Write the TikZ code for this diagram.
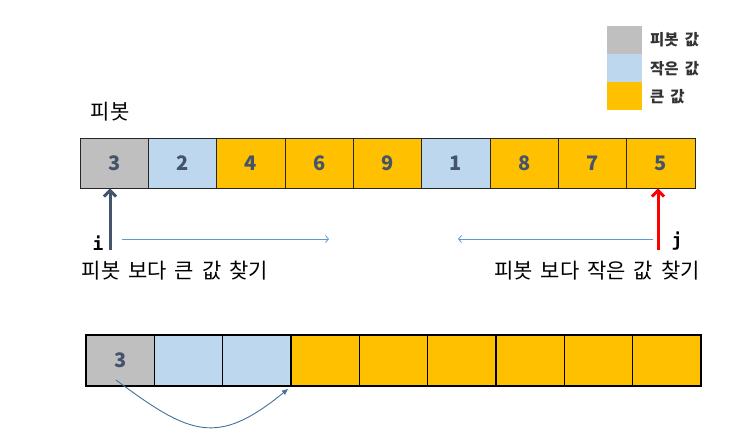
\documentclass[tikz,border=0pt]{standalone}
\usepackage{fontspec}
\setmainfont{Noto Sans CJK KR}[WordSpace=1.7]
\newfontfamily\monofont{DejaVu Sans Mono}
\usetikzlibrary{arrows.meta}

\definecolor{pivotgray}{HTML}{BFBFBF}
\definecolor{smallblue}{HTML}{BDD7EE}
\definecolor{biggold}{HTML}{FFC000}
\definecolor{numcol}{HTML}{44546A}
\definecolor{scanblue}{HTML}{5B9BD5}
\definecolor{moveblue}{HTML}{41719C}

\tikzset{
  cell/.style={draw=black!85, line width=0.8pt, minimum width=68.33pt,
    minimum height=50pt, inner sep=0pt, text=numcol,
    font=\fontsize{20}{24}\selectfont\bfseries},
  lowcell/.style={cell, draw=black, line width=1.2pt, minimum height=51pt},
  legbox/.style={minimum width=35pt, minimum height=28pt, inner sep=0pt},
  legtext/.style={anchor=west, inner sep=0pt, font=\fontsize{15.5}{18}\selectfont\bfseries, text=black!80},
  krtext/.style={inner sep=0pt, font=\fontsize{21}{25}\selectfont},
  pointer/.style={line width=3pt, -{Straight Barb[length=6pt,width=12pt]}},
  scan/.style={draw=scanblue, line width=0.8pt, -{Straight Barb[length=3pt,width=7pt]}},
  idx/.style={inner sep=0pt, font=\monofont\bfseries\fontsize{18}{20}\selectfont}
}

\begin{document}
\begin{tikzpicture}[x=1pt,y=-1pt]
\useasboundingbox (0,0) rectangle (729,445);

% we draw the legend
\node (legpivot) [legbox, fill=pivotgray] at (624.5,40) {};
\node (legsmall) [legbox, fill=smallblue] at (624.5,68) {};
\node (legbig) [legbox, fill=biggold] at (624.5,96) {};
\node (legpivottext) [legtext] at (650,40) {피봇 값};
\node (legsmalltext) [legtext] at (650,69) {작은 값};
\node (legbigtext) [legtext] at (650,97) {큰 값};

% the label over the pivot
\node (pivotlabel) [krtext] at (110,112) {피봇};

% the first row
\foreach \v/\c [count=\k] in {3/pivotgray,2/smallblue,4/biggold,6/biggold,9/biggold,1/smallblue,8/biggold,7/biggold,5/biggold}
  \node (t\k) [cell, fill=\c] at ({80+68.33*(\k-0.5)},163) {\v};

% the pointers i and j
\coordinate (ifoot) at (110,250);
\coordinate (jfoot) at (658,250);
\draw[pointer, numcol] (ifoot) -- (ifoot |- t1.south);
\draw[pointer, red] (jfoot) -- (jfoot |- t9.south);
\node (ilabel) [idx] at (98,243) {i};
\node (jlabel) [idx] at (677,241) {j};

% the directions of the search
\coordinate (istart) at (122,239);
\coordinate (iend) at (329,239);
\coordinate (jstart) at (653,239);
\coordinate (jend) at (458,239);
\draw[scan] (istart) -- (iend);
\draw[scan] (jstart) -- (jend);

% we add some labels
\node (findbig) [krtext] at (175,271) {피봇 보다 큰 값 찾기};
\node (findsmall) [krtext] at (597,271) {피봇 보다 작은 값 찾기};

% the second row
\foreach \c [count=\k] in {pivotgray,smallblue,smallblue,biggold,biggold,biggold,biggold,biggold,biggold}
  \node (b\k) [lowcell, fill=\c] at ({86+68.33*(\k-0.5)},360.5) {};
\node (pivotnum) [text=numcol, font=\fontsize{20}{24}\selectfont\bfseries] at (b1) {3};

% the pivot moves
\coordinate (movefrom) at (116,380);
\coordinate (moveto) at (288,389);
\draw[moveblue, line width=0.9pt, -{Triangle[length=6pt,width=5pt]}]
  (movefrom) .. controls (190,435) and (217,447) .. (moveto);

\end{tikzpicture}
\end{document}
